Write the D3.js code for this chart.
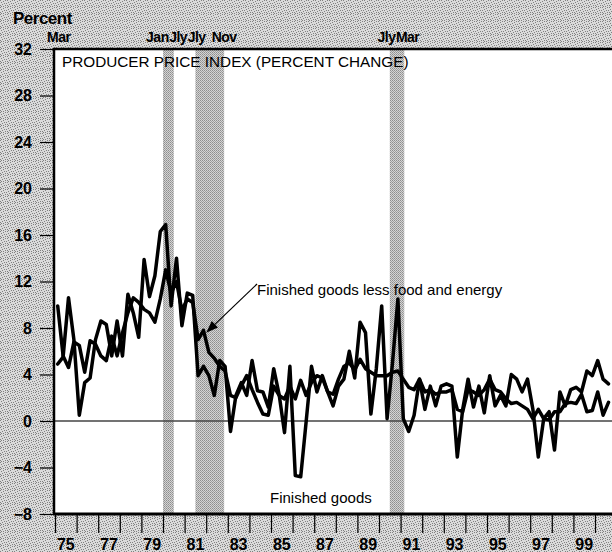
<!DOCTYPE html>
<html>
<head>
<meta charset="utf-8">
<script src="https://cdn.jsdelivr.net/npm/d3@7"></script>
<style>
  body { margin: 0; background: #fff; }
  svg { display: block; }
  text { font-family: "Liberation Sans", Arial, Helvetica, sans-serif; fill: #000; }
</style>
</head>
<body>
<div id="chart"></div>
<script>
(function() {

  // quarterly percent changes, 1975Q1 onward
  var finishedGoods = [
    4.9, 5.5, 10.6, 7.0,     // 1975
    0.5, 3.3, 3.7, 7.0,      // 1976
    8.6, 8.3, 5.6, 8.6,      // 1977
    5.6, 10.9, 9.3, 7.2,     // 1978
    13.9, 10.7, 12.5, 16.3,  // 1979
    16.9, 9.9, 14.0, 8.2,    // 1980
    11.0, 10.8, 3.9, 4.7,    // 1981
    3.9, 2.2, 5.2, 4.7,      // 1982
    -0.9, 2.2, 3.3, 2.2,     // 1983
    5.2, 2.6, 2.5, 1.2,      // 1984
    4.5, 2.3, -1.0, 4.7,     // 1985
    -4.7, -4.8, -0.1, 4.7,   // 1986
    2.5, 3.9, 2.5, 1.3,      // 1987
    3.0, 3.6, 6.0, 3.7,      // 1988
    8.5, 7.6, 0.6, 4.5,      // 1989
    9.9, 0.2, 5.0, 10.5,     // 1990
    0.2, -0.9, 0.5, 3.6,     // 1991
    1.0, 3.0, 1.3, 3.0,      // 1992
    3.2, 3.0, -3.1, 1.0,     // 1993
    3.6, 1.2, 3.0, 0.7,      // 1994
    3.9, 1.3, 2.2, 1.3,      // 1995
    4.0, 3.6, 2.5, 3.6,      // 1996
    1.0, -3.1, 0.2, 0.8,     // 1997
    -2.5, 2.5, 1.3, 2.7,     // 1998
    2.9, 2.5, 4.3, 3.9,      // 1999
    5.2, 3.6, 3.2            // 2000
  ];

  var lessFoodEnergy = [
    9.9, 5.6, 4.6, 6.8,
    6.5, 4.2, 6.9, 6.6,
    5.6, 5.2, 7.3, 5.6,
    7.6, 9.3, 10.6, 10.2,
    9.6, 9.3, 8.5, 10.5,
    13.0, 11.0, 12.0, 9.5,
    10.5, 10.2, 7.0, 7.8,
    5.9, 5.4, 4.7, 4.3,
    2.2, 2.0, 3.0, 3.9,
    2.7, 1.6, 0.6, 0.5,
    3.0, 2.2, 1.9, 3.0,
    1.9, 3.5, 2.2, 3.3,
    3.9, 3.7, 2.5, 2.3,
    3.6, 4.7, 5.0, 4.4,
    5.3, 4.5, 4.2, 3.9,
    3.9, 3.9, 4.2, 4.3,
    3.6, 2.9, 2.7, 3.6,
    2.5, 2.7, 2.3, 2.5,
    2.5, 2.7, 1.0, 0.8,
    2.7, 2.5, 2.2, 2.7,
    3.6, 2.7, 2.5, 1.9,
    1.5, 1.6, 1.3, 1.0,
    0.2, 1.0, 0.2, 0.1,
    0.8, 0.8, 1.5, 1.6,
    1.5, 2.3, 0.8, 0.9,
    2.5, 0.5, 1.6
  ];

  // recessions (decimal years) and their month labels
  var recessionStart = [1980.0, 1981.5, 1990.5];
  var recessionEnd = [1980.5, 1982.83, 1991.17];
  var monthLabels = [
    { t: 1975.17, text: "Mar" },
    { t: 1980.0, text: "Jan" },
    { t: 1980.5, text: "Jly" },
    { t: 1981.5, text: "Jly" },
    { t: 1982.83, text: "Nov" },
    { t: 1990.5, text: "Jly" },
    { t: 1991.17, text: "Mar" }
  ];

  var yTicks = d3.range(-8, 33, 4);
  var yearTicks = d3.range(1975, 2001);
  var yearLabels = d3.range(1975, 2000, 2);

  var fullWidth = 612, fullHeight = 552;
  var left = 54, top = 49, bottom = 514;

  var x = d3.scaleLinear().domain([1975, 2000]).range([55, 595]);
  var y = d3.scaleLinear().domain([-8, 32]).range([bottom, top]);

  var svg = d3.select("#chart").append("svg")
      .attr("width", fullWidth)
      .attr("height", fullHeight);

  var defs = svg.append("defs");

  // stippled paper texture
  var bg = defs.append("pattern")
      .attr("id", "paper")
      .attr("width", 7).attr("height", 7)
      .attr("patternUnits", "userSpaceOnUse");
  bg.append("rect").attr("width", 7).attr("height", 7).attr("fill", "#dadada");
  [[0, 0], [3, 1], [5, 0], [1, 2], [6, 3], [4, 3], [2, 4], [0, 5], [5, 5], [3, 6], [1, 6]].forEach(function(p) {
    bg.append("rect").attr("x", p[0]).attr("y", p[1]).attr("width", 1).attr("height", 1).attr("fill", "#808080");
  });

  var band = defs.append("pattern")
      .attr("id", "band")
      .attr("width", 2).attr("height", 2)
      .attr("patternUnits", "userSpaceOnUse");
  band.append("rect").attr("width", 2).attr("height", 2).attr("fill", "#d4d4d4");
  band.append("rect").attr("width", 1).attr("height", 1).attr("fill", "#8e8e8e");
  band.append("rect").attr("x", 1).attr("y", 1).attr("width", 1).attr("height", 1).attr("fill", "#a0a0a0");

  defs.append("clipPath").attr("id", "plotclip")
    .append("rect")
      .attr("x", left).attr("y", top)
      .attr("width", fullWidth - left).attr("height", bottom - top);

  svg.append("rect")
      .attr("width", fullWidth).attr("height", fullHeight)
      .attr("fill", "url(#paper)");

  svg.append("rect")
      .attr("x", left).attr("y", top)
      .attr("width", fullWidth - left).attr("height", bottom - top)
      .attr("fill", "#fff");

  // recession bands
  svg.append("g").selectAll("rect")
      .data(recessionStart)
    .enter().append("rect")
      .attr("x", function(d) { return x(d); })
      .attr("y", top)
      .attr("width", function(d, i) { return x(recessionEnd[i]) - x(d); })
      .attr("height", bottom - top)
      .attr("fill", "url(#band)");

  // zero line
  svg.append("line")
      .attr("x1", left).attr("x2", fullWidth)
      .attr("y1", y(0)).attr("y2", y(0))
      .attr("stroke", "#444")
      .attr("stroke-width", 1.5);

  // series
  var line = d3.line()
      .x(function(d, i) { return x(1975 + (i + 0.5) / 4); })
      .y(function(d) { return y(d); });

  var plot = svg.append("g").attr("clip-path", "url(#plotclip)");

  [lessFoodEnergy, finishedGoods].forEach(function(series) {
    plot.append("path")
        .datum(series)
        .attr("d", line)
        .attr("fill", "none")
        .attr("stroke", "#000")
        .attr("stroke-width", 3.5)
        .attr("stroke-linejoin", "round")
        .attr("stroke-linecap", "round");
  });

  // frame
  svg.append("path")
      .attr("d", "M" + left + "," + bottom + "V" + top + "H" + fullWidth)
      .attr("fill", "none")
      .attr("stroke", "#000")
      .attr("stroke-width", 2.5);
  svg.append("line")
      .attr("x1", left - 1).attr("x2", fullWidth)
      .attr("y1", bottom).attr("y2", bottom)
      .attr("stroke", "#000")
      .attr("stroke-width", 3);

  // y axis
  var yAxis = svg.append("g")
      .attr("transform", "translate(" + (left - 1) + ",0)")
      .call(d3.axisLeft(y).tickValues(yTicks).tickSize(13).tickPadding(8));
  yAxis.select(".domain").remove();
  yAxis.selectAll("line").attr("stroke", "#000").attr("stroke-width", 1.2);
  yAxis.selectAll("text")
      .style("font-family", "'Liberation Sans', Arial, sans-serif")
      .style("font-weight", "bold")
      .style("font-size", "16px")
      .attr("fill", "#000");

  // x axis ticks
  var xAxis = svg.append("g")
      .attr("transform", "translate(0," + (bottom + 1) + ")")
      .call(d3.axisBottom(x).tickValues(yearTicks).tickSize(18).tickFormat(""));
  xAxis.select(".domain").remove();
  xAxis.selectAll("line").attr("stroke", "#000").attr("stroke-width", 1.2);

  svg.append("g").selectAll("text")
      .data(yearLabels)
    .enter().append("text")
      .attr("x", function(d) { return x(d + 0.5); })
      .attr("y", 550)
      .attr("text-anchor", "middle")
      .style("font-weight", "bold")
      .style("font-size", "16px")
      .text(function(d) { return String(d).slice(2); });

  svg.append("text")
      .attr("x", 13).attr("y", 24)
      .style("font-weight", "bold")
      .style("font-size", "17px")
      .attr("letter-spacing", "-0.5")
      .text("Percent");

  // recession month labels, centred on their dates then pushed apart
  var labels = svg.append("g").selectAll("text")
      .data(monthLabels)
    .enter().append("text")
      .attr("y", 42)
      .attr("text-anchor", "middle")
      .style("font-weight", "bold")
      .style("font-size", "14px")
      .attr("letter-spacing", "-0.5")
      .text(function(d) { return d.text; });
  labels.each(function(d) { d.w = this.getComputedTextLength(); d.cx = x(d.t); });
  for (var it = 0; it < 30; it++) {
    for (var i = 1; i < monthLabels.length; i++) {
      var a = monthLabels[i - 1], b = monthLabels[i];
      var need = (a.w + b.w) / 2 + 0.5 - (b.cx - a.cx);
      if (need > 0) { a.cx -= need / 2; b.cx += need / 2; }
    }
  }
  labels.attr("x", function(d) { return d.cx; });

  svg.append("text")
      .attr("x", 62).attr("y", 67)
      .style("font-size", "15.3px")
      .text("PRODUCER PRICE INDEX (PERCENT CHANGE)");

  // annotations
  svg.append("text")
      .attr("x", 257).attr("y", 295)
      .style("font-size", "15px")
      .text("Finished goods less food and energy");

  svg.append("text")
      .attr("x", 270).attr("y", 503)
      .style("font-size", "15px")
      .text("Finished goods");

  var tipX = x(1982.0), tipY = y(7.6);
  var fromX = 257, fromY = 284;
  var ang = Math.atan2(tipY - fromY, tipX - fromX);
  var headLen = 12, headW = 4.5;
  var bx = tipX - headLen * Math.cos(ang), by = tipY - headLen * Math.sin(ang);
  svg.append("line")
      .attr("x1", fromX).attr("y1", fromY)
      .attr("x2", bx).attr("y2", by)
      .attr("stroke", "#000").attr("stroke-width", 1.2);
  svg.append("path")
      .attr("d", "M" + tipX + "," + tipY +
        "L" + (bx + headW * Math.sin(ang)) + "," + (by - headW * Math.cos(ang)) +
        "L" + (bx - headW * Math.sin(ang)) + "," + (by + headW * Math.cos(ang)) + "Z")
      .attr("fill", "#000");

})();
</script>
</body>
</html>
